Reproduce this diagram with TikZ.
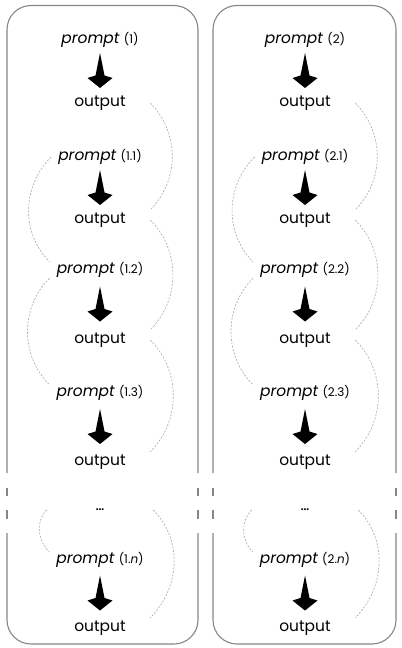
\documentclass[tikz,border=0pt]{standalone}
\usepackage{fontspec}
\setmainfont{Poppins}
\usetikzlibrary{positioning,calc,arrows.meta,decorations.markings}
\tikzset{font=\fontsize{15.5}{18}\selectfont}
\tikzset{
	frame/.style={draw=gray!95, line width=1.1bp},
	outnode/.style={minimum width=100bp, minimum height=20bp, inner sep=0pt},
	promptnode/.style={minimum height=16bp, inner xsep=7bp, inner ysep=0pt},
	dotsnode/.style={minimum width=106bp, minimum height=4bp, inner sep=0pt, font=\fontsize{10}{10}\selectfont\bfseries},
	bigarrow/.style={postaction=decorate, decoration={markings, mark=at position 0.5 with {
		\fill (-17.5,0) -- (5,4.5) -- (7.5,12.5) -- (17.5,0) -- (7.5,-12.5) -- (5,-4.5) -- cycle;}}},
	thread/.style={draw=gray!70, dash pattern=on 2bp off 1.5bp, line width=0.6bp},
}
\newcommand{\promptno}[1]{\textit{prompt} {\fontsize{12}{13}\selectfont(#1)}}

\begin{document}
\begin{tikzpicture}[x=1bp, y=1bp]
	\useasboundingbox (0,0) rectangle (401,-648);

	% frames, broken near the bottom
	\draw[frame, rounded corners=24bp] (7,-473) |- (198,-5.5) -- (198,-473);
	\draw[frame, rounded corners=24bp] (7,-533) |- (198,-644) -- (198,-533);
	\draw[frame, rounded corners=24bp] (213,-473) |- (396,-5.5) -- (396,-473);
	\draw[frame, rounded corners=24bp] (213,-533) |- (396,-644) -- (396,-533);
	\foreach \x in {7,198,213,396}
		\draw[frame] (\x,-488) -- (\x,-496) (\x,-510) -- (\x,-519);

	% first chain
	\begin{scope}
		\tikzstyle{every node}=[align=center]
		\node[promptnode] (p1) at (100,-40) {\promptno{1}};
		\node[outnode] (o1) at (100,-103) {output};
		\node[promptnode] (p11) at (100,-157) {\promptno{1.1}};
		\node[outnode] (o11) at (100,-220) {output};
		\node[promptnode] (p12) at (100,-270) {\promptno{1.2}};
		\node[outnode] (o12) at (100,-340) {output};
		\node[promptnode] (p13) at (100,-393) {\promptno{1.3}};
		\node[outnode] (o13) at (100,-462) {output};
		\node[dotsnode] (d1) at (100,-510) {...};
		\node[promptnode] (p1n) at (100,-560) {\promptno{1.\textit{n}}};
		\node[outnode] (o1n) at (100,-628) {output};

		\path[bigarrow] (p1) -- (o1);
		\path[bigarrow] (p11) -- (o11);
		\path[bigarrow] (p12) -- (o12);
		\path[bigarrow] (p13) -- (o13);
		\path[bigarrow] (p1n) -- (o1n);

		\draw[thread] (o1.east) to[out=-45, in=45] (o11.north east);
		\draw[thread] (o11.east) to[out=-45, in=45] (o12.north east);
		\draw[thread] (o12.east) to[out=-45, in=45] (o13.north east);
		\draw[thread] (d1.east) to[out=-45, in=45] (o1n.north east);
		\draw[thread] (p11.west) to[out=-135, in=135] (p12.north west);
		\draw[thread] (p12.south west) to[out=-135, in=135] (p13.north west);
		\draw[thread] (d1.west) to[out=-135, in=135] (p1n.north west);
	\end{scope}

	% second chain
	\begin{scope}
		\tikzstyle{every node}=[align=center]
		\node[promptnode] (p2) at (305,-40) {\promptno{2}};
		\node[outnode] (o2) at (305,-103) {output};
		\node[promptnode] (p21) at (305,-157) {\promptno{2.1}};
		\node[outnode] (o21) at (305,-220) {output};
		\node[promptnode] (p22) at (305,-270) {\promptno{2.2}};
		\node[outnode] (o22) at (305,-340) {output};
		\node[promptnode] (p23) at (305,-393) {\promptno{2.3}};
		\node[outnode] (o23) at (305,-462) {output};
		\node[dotsnode] (d2) at (305,-510) {...};
		\node[promptnode] (p2n) at (305,-560) {\promptno{2.\textit{n}}};
		\node[outnode] (o2n) at (305,-628) {output};

		\path[bigarrow] (p2) -- (o2);
		\path[bigarrow] (p21) -- (o21);
		\path[bigarrow] (p22) -- (o22);
		\path[bigarrow] (p23) -- (o23);
		\path[bigarrow] (p2n) -- (o2n);

		\draw[thread] (o2.east) to[out=-45, in=45] (o21.north east);
		\draw[thread] (o21.east) to[out=-45, in=45] (o22.north east);
		\draw[thread] (o22.east) to[out=-45, in=45] (o23.north east);
		\draw[thread] (d2.east) to[out=-45, in=45] (o2n.north east);
		\draw[thread] (p21.west) to[out=-135, in=135] (p22.north west);
		\draw[thread] (p22.south west) to[out=-135, in=135] (p23.north west);
		\draw[thread] (d2.west) to[out=-135, in=135] (p2n.north west);
	\end{scope}
\end{tikzpicture}
\end{document}
